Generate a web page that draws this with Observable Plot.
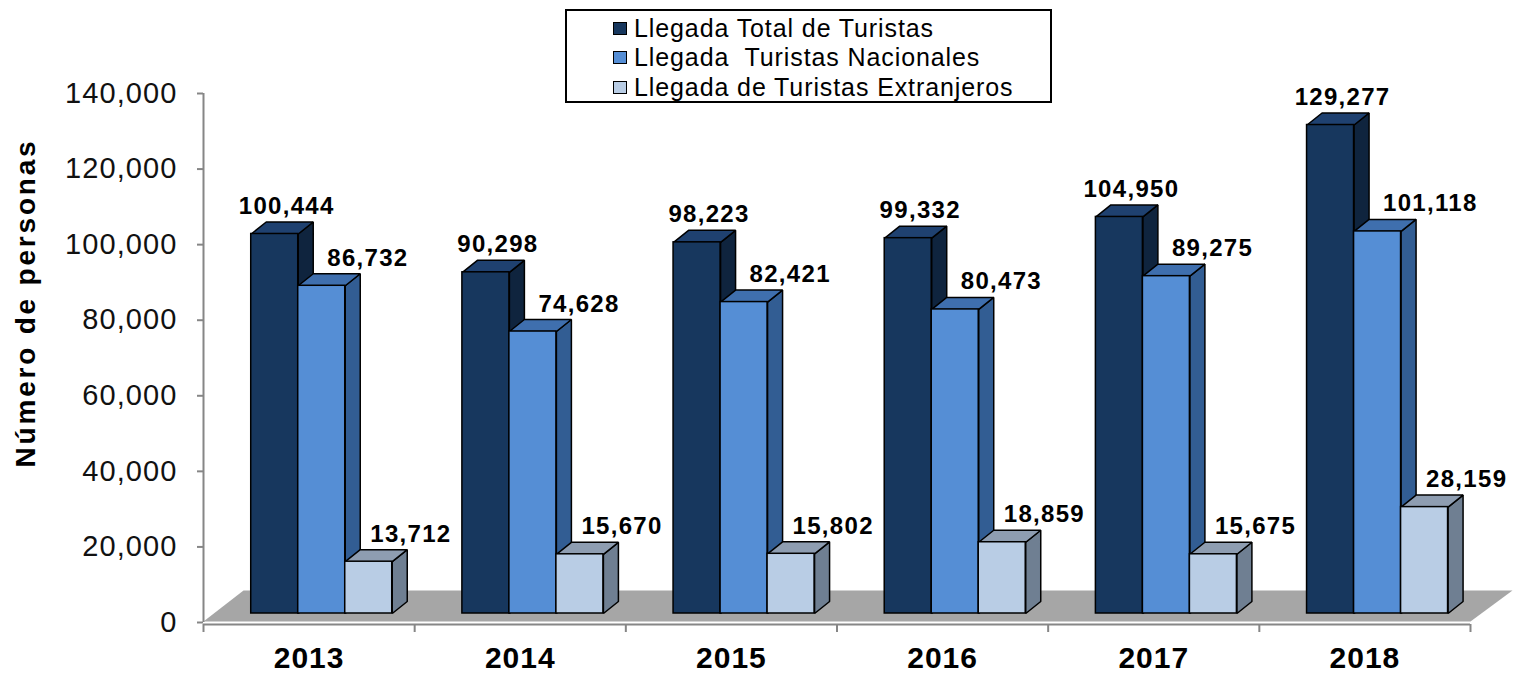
<!DOCTYPE html>
<html>
<head>
<meta charset="utf-8">
<script src="https://cdn.jsdelivr.net/npm/d3@7"></script>
<script src="https://cdn.jsdelivr.net/npm/@observablehq/plot@0.6"></script>
<style>
  html, body { margin: 0; padding: 0; background: #fff; }
  #wrap { position: relative; width: 1527px; height: 674px; font-family: "Liberation Sans", Arial, sans-serif; }
  #legend { position: absolute; left: 565px; top: 9px; width: 487px; height: 94px; border: 2px solid #000; box-sizing: border-box; background: #fff; }
  .row { position: absolute; left: 46px; height: 29px; line-height: 29px; font-size: 25px; white-space: pre; color: #000; letter-spacing: 0.9px; }
  .sw { position: absolute; left: 0; top: 8px; width: 14px; height: 13px; border: 1.5px solid #000; box-sizing: border-box; }
  .lt { position: absolute; left: 21px; top: 0; }
</style>
</head>
<body>
<div id="wrap"></div>
<script>
// ---- data ----
const years = ["2013", "2014", "2015", "2016", "2017", "2018"];
const total = [100444, 90298, 98223, 99332, 104950, 129277];
const nacionales = [86732, 74628, 82421, 80473, 89275, 101118];
const extranjeros = [13712, 15670, 15802, 18859, 15675, 28159];
const seriesNames = ["Llegada Total de Turistas", "Llegada  Turistas Nacionales", "Llegada de Turistas Extranjeros"];
const yTicks = [0, 20000, 40000, 60000, 80000, 100000, 120000, 140000];
const yTitle = "Número de personas";

// ---- styles ----
const frontColors = ["#17375e", "#558ed5", "#b9cde5"];
const sideColors = ["#0f243e", "#325d93", "#6f7f92"];
const topColors = ["#1f4170", "#3f6fae", "#8e9db1"];

// ---- layout ----
const W = 1527, H = 674, mL = 203, mR = 57, mT = 93, mB = 52;
const yMax = 140000;
const unitPx = (W - mL - mR) / years.length;
const valPx = (H - mT - mB) / yMax;
const barStart = 0.226, barW = 0.2226;
const depthX = 15 / unitPx, depthY = 12 / valPx;
const baseDy = -9;
const series = [total, nacionales, extranjeros];
const fmt = d3.format(",");

function faces(j) {
  const side = [], top = [], front = [];
  series[j].forEach((v, i) => {
    const x0 = i + barStart + j * barW, x1 = x0 + barW;
    front.push({x1: x0, x2: x1, y1: 0, y2: v});
    [[x1, 0], [x1, v], [x1 + depthX, v + depthY], [x1 + depthX, depthY], [x1, 0]]
      .forEach(([x, y]) => side.push({x, y, z: i}));
    [[x0, v], [x1, v], [x1 + depthX, v + depthY], [x0 + depthX, v + depthY], [x0, v]]
      .forEach(([x, y]) => top.push({x, y, z: i}));
  });
  return {side, top, front};
}

// floor parallelogram (geometry of the 3D floor)
const floorBackY = 31 / valPx;
const floor = [
  {x: 0, y: 0}, {x: years.length, y: 0},
  {x: years.length + 42 / unitPx, y: floorBackY}, {x: 40 / unitPx, y: floorBackY}, {x: 0, y: 0}
];

const marks = [
  Plot.line(floor, {x: "x", y: "y", fill: "#a6a6a6", stroke: "none", dy: -1}),
];
const stroke = {stroke: "#000", strokeWidth: 1.5, strokeLinejoin: "miter", strokeLinecap: "butt"};
for (let j = 0; j < 3; j++) {
  const f = faces(j);
  marks.push(Plot.line(f.side, {x: "x", y: "y", z: "z", fill: sideColors[j], ...stroke, dy: baseDy}));
  marks.push(Plot.line(f.top, {x: "x", y: "y", z: "z", fill: topColors[j], ...stroke, dy: baseDy}));
  marks.push(Plot.rect(f.front, {x1: "x1", x2: "x2", y1: "y1", y2: "y2", fill: frontColors[j], ...stroke, dy: baseDy}));
}

// value labels
const labelFs = 24;
const labelDy = baseDy - 20 - 0.32 * labelFs;
const idx = years.map((_, i) => i);
marks.push(Plot.text(idx, {
  x: i => i + barStart + barW / 2 + 12 / unitPx, y: i => total[i], text: i => fmt(total[i]),
  textAnchor: "middle", fontSize: labelFs, fontWeight: "bold", fill: "#000", dy: labelDy
}));
marks.push(Plot.text(idx, {
  x: i => i + barStart + 2 * barW - 18 / unitPx, y: i => nacionales[i], text: i => fmt(nacionales[i]),
  textAnchor: "start", fontSize: labelFs, fontWeight: "bold", fill: "#000", dy: labelDy
}));
marks.push(Plot.text(idx, {
  x: i => i + barStart + 3 * barW - 22 / unitPx, y: i => extranjeros[i], text: i => fmt(extranjeros[i]),
  textAnchor: "start", fontSize: labelFs, fontWeight: "bold", fill: "#000", dy: labelDy
}));

// axes
marks.push(Plot.ruleX([0], {stroke: "#868686", strokeWidth: 2}));
marks.push(Plot.ruleY([0], {stroke: "#868686", strokeWidth: 2, dy: 2}));
marks.push(Plot.axisY({
  ticks: yTicks, tickFormat: fmt, anchor: "left", tickSize: 6, tickPadding: 20,
  fontSize: 29, stroke: "#868686", strokeWidth: 2, fill: "#111"
}));
marks.push(Plot.axisX({
  ticks: d3.range(years.length + 1), tickFormat: () => "", anchor: "bottom",
  tickSize: 8, stroke: "#868686", strokeWidth: 2, dy: 2
}));
marks.push(Plot.axisX({
  ticks: years.map((_, i) => i + 0.5), tickFormat: d => years[Math.floor(d)], anchor: "bottom",
  tickSize: 0, tickPadding: 24, fontSize: 30, fontWeight: "bold", fill: "#000"
}));
marks.push(Plot.text([yTitle], {
  frameAnchor: "left", textAnchor: "middle", rotate: -90, dx: -177, dy: -55,
  fontSize: 28, fontWeight: "bold", fill: "#000"
}));

const svg = Plot.plot({
  width: W, height: H, marginLeft: mL, marginRight: mR, marginTop: mT, marginBottom: mB,
  x: {domain: [0, years.length]},
  y: {domain: [0, yMax]},
  style: {fontFamily: "'Liberation Sans', Arial, sans-serif", background: "transparent", overflow: "visible"},
  marks
});

const sel = d3.select(svg);
sel.selectAll("g[font-size='24'] text").attr("letter-spacing", "1.3px");
sel.selectAll("g[aria-label='y-axis tick label'] text").attr("letter-spacing", "1.1px");
sel.selectAll("g[aria-label='x-axis tick label'] text").attr("letter-spacing", "1px");
sel.selectAll("g[font-size='28'] text").attr("letter-spacing", "2.8px");

const wrap = document.getElementById("wrap");
wrap.appendChild(svg);

// legend
const legend = document.createElement("div");
legend.id = "legend";
const rowTops = [3, 32, 62];
seriesNames.forEach((name, j) => {
  const row = document.createElement("div");
  row.className = "row";
  row.style.top = rowTops[j] + "px";
  const sw = document.createElement("span");
  sw.className = "sw";
  sw.style.background = frontColors[j];
  const t = document.createElement("span");
  t.className = "lt";
  t.textContent = name;
  row.appendChild(sw);
  row.appendChild(t);
  legend.appendChild(row);
});
wrap.appendChild(legend);
</script>
</body>
</html>
